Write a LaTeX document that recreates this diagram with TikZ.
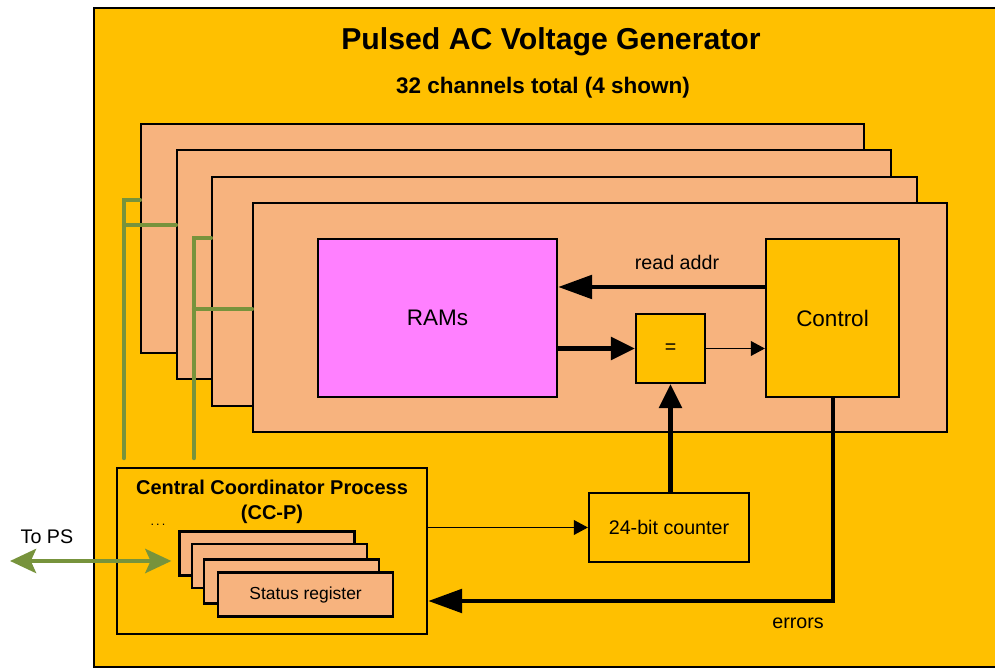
\documentclass[tikz,border=0pt]{standalone}
\usepackage{fontspec}
\setmainfont{Liberation Sans}
\usepackage{xcolor}
\definecolor{genOrange}{HTML}{FFC000}
\definecolor{genPeche}{HTML}{F7B37E}
\definecolor{genMagenta}{HTML}{FF80FF}
\definecolor{genOlive}{HTML}{77933C}
\definecolor{genTrait}{HTML}{000000}
\usepackage{tikz}
\usetikzlibrary{arrows.meta, positioning}
\tikzset{
  %% ── Boxes ────────────────────────────────────────────────────────────
  bloc/.style       = {draw=genTrait, line width=1.6pt, fill=genOrange,
                       align=center, inner sep=2pt,
                       font=\fontsize{14}{17}\selectfont},
  blocFond/.style   = {bloc, line width=1.6pt},
  blocCanal/.style  = {bloc, fill=genPeche},
  blocRam/.style    = {bloc, fill=genMagenta, font=\fontsize{16}{19}\selectfont},
  blocReg/.style    = {bloc, fill=genPeche, minimum width=4.375cm,
                       minimum height=1.1cm, font=\fontsize{12.4}{15}\selectfont},
  %%
  %% ── Arrows ───────────────────────────────────────────────────────────
  fleche/.style     = {-{Triangle[length=6mm, width=5.6mm]}, draw=genTrait,
                       line width=3.4pt},
  flecheLongue/.style = {fleche, -{Triangle[length=8.5mm, width=5.8mm]}},
  flecheFine/.style = {-{Triangle[length=3.5mm, width=3.7mm]}, draw=genTrait,
                       line width=0.7pt},
  flecheVerte/.style = {{Stealth[length=6.5mm, width=6mm, inset=1.3mm]}-{Stealth[length=6.5mm, width=6mm, inset=1.3mm]},
                       draw=genOlive, line width=3.2pt},
  bus/.style        = {draw=genOlive, line width=3.1pt, line cap=round},
  %%
  %% ── Text ─────────────────────────────────────────────────────────────
  etiquette/.style  = {font=\fontsize{14}{17}\selectfont, inner sep=1pt},
  etiquetteGras/.style = {font=\fontsize{14.2}{17.8}\selectfont\bfseries,
                       align=center, inner sep=1pt},
  titre/.style      = {font=\fontsize{21.5}{25}\selectfont\bfseries, inner sep=1pt},
  sousTitre/.style  = {font=\fontsize{16}{19}\selectfont\bfseries, inner sep=1pt},
}

\begin{document}
\begin{tikzpicture}[x=1cm, y=1cm]

\useasboundingbox (0, 0) rectangle (24.875, 16.725);

\node[blocFond, minimum width=23cm, minimum height=16.475cm, anchor=south west]
     (gen) at (2.325, 0.025) {};
\node[titre] (titre) at (13.775, 15.675) {Pulsed AC Voltage Generator};
\node[sousTitre] (sousTitre) at (13.575, 14.525) {32 channels total (4 shown)};

\node[blocCanal, minimum width=18.075cm, minimum height=5.725cm] (canalA) at (12.5625, 10.7625) {};
\node[blocCanal, minimum width=17.85cm, minimum height=5.725cm] (canalB) at (13.35, 10.1125) {};
\node[blocCanal, minimum width=17.625cm, minimum height=5.725cm] (canalC) at (14.1125, 9.4375) {};
\node[blocCanal, minimum width=17.35cm, minimum height=5.725cm] (canalD) at (15.0, 8.7875) {};

\node[blocRam, minimum width=5.975cm, minimum height=3.95cm] (rams) at (10.9375, 8.775) {RAMs};
\node[bloc, minimum width=3.325cm, minimum height=3.95cm, font=\fontsize{16}{19}\selectfont]
     (ctrl) at (20.8125, 8.775) {Control};
\node[bloc, minimum width=1.725cm, minimum height=1.725cm] (egal) at (16.7625, 8.0125) {=};
\node[bloc, minimum width=4.0cm, minimum height=1.725cm] (cpt) at (16.725, 3.5375) {24-bit counter};

\node[bloc, minimum width=7.75cm, minimum height=4.15cm] (ccp) at (6.8, 2.95) {};
\node[etiquetteGras] (ccpTitre) at (6.8, 4.175) {Central Coordinator Process\\(CC-P)};
\node[font=\fontsize{9}{10}\selectfont, inner sep=0pt] (suite) at (3.95, 3.6) {.\,.\,.};

\coordinate (busA1) at (3.1, 11.725);
\coordinate (busA2) at (3.1, 11.1);
\coordinate (busB1) at (4.85, 10.775);
\coordinate (busB2) at (4.85, 9.0);
\draw[bus, shorten <=2.2mm] (busA1 |- ccp.north) -- (busA1) -- (busA1 -| canalA.west);
\draw[bus] (busA2) -- (busA2 -| canalB.west);
\draw[bus, shorten <=2.2mm] (busB1 |- ccp.north) -- (busB1) -- (busB1 -| canalC.west);
\draw[bus] (busB2) -- (busB2 -| canalD.west);

\node[blocReg] (regA) at (6.675, 2.89) {};
\node[blocReg] (regB) at (6.99, 2.57) {};
\node[blocReg] (regC) at (7.29, 2.19) {};
\node[blocReg] (regD) at (7.64, 1.86) {Status register};

\node[etiquette] (versPS) at (1.175, 3.3) {To PS};
\coordinate (psBout) at (0.25, 2.7);
\draw[flecheVerte, shorten >=1.75mm] (psBout) -- (psBout -| regA.west);

\coordinate (lectAdr) at (18, 9.55);
\draw[flecheLongue] (ctrl.west |- lectAdr) -- (rams.east |- lectAdr);
\node[etiquette] (lectAdrTxt) at (16.925, 10.175) {read addr};
\draw[fleche] (rams.east |- egal.west) -- (egal.west);
\draw[flecheFine] (egal.east) -- (ctrl.west |- egal.east);
\draw[fleche] (cpt.north -| egal.south) -- (egal.south);
\draw[flecheFine] (ccp.east |- cpt.west) -- (cpt.west);

\coordinate (coinErr) at (20.825, 1.7);
\draw[flecheLongue] (ctrl.south -| coinErr) -- (coinErr) -- (ccp.east |- coinErr);
\node[etiquette] (errTxt) at (19.95, 1.15) {errors};

\end{tikzpicture}
\end{document}
